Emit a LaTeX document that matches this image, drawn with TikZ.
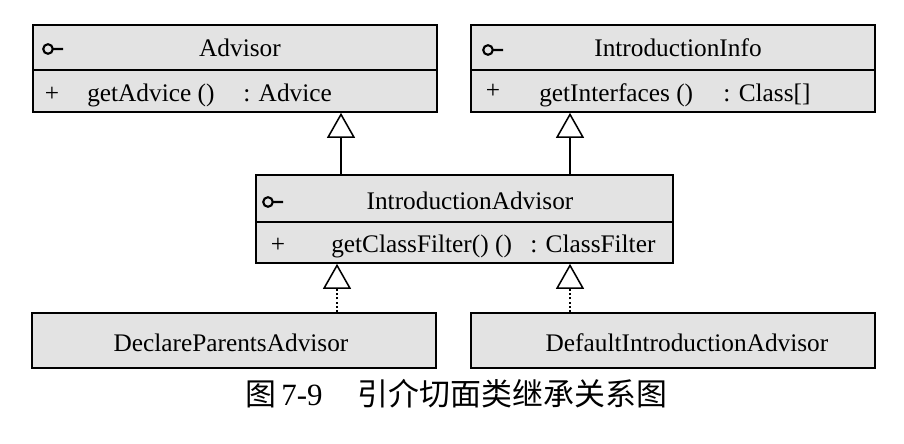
\documentclass[tikz,border=0pt]{standalone}
\usepackage{fontspec}
\setmainfont{Liberation Serif}
\newfontfamily\cjk{Noto Sans CJK SC}
\usetikzlibrary{arrows.meta}

\begin{document}
\begin{tikzpicture}[x=0.025cm, y=-0.025cm,
    cls/.style={draw, line width=1.2pt, fill=black!11, inner sep=0pt, minimum width=10.1cm},
    hdr/.style={cls, minimum height=1.125cm},
    ops/.style={cls, minimum height=1.05cm},
    txt/.style={anchor=base, inner sep=0pt, font=\fontsize{18}{20}\selectfont},
    optxt/.style={txt, anchor=base west},
    gen/.style={line width=1.1pt, -{Triangle[open, length=0.625cm, width=0.7cm, line width=1.1pt]}},
    real/.style={gen, dash pattern=on 1.5pt off 1.5pt}]

    \useasboundingbox (0,0) rectangle (904,444);

    % Advisor
    \node[hdr] (advH) at (235,47.5) {};
    \node[ops] (advB) at (235,91) {};
    \node[txt] (advTitle) at (240,57) {Advisor};
    \node[txt] (advPlus) at (52,102) {+};
    \node[optxt] (advOp) at (87,102) {getAdvice ()};
    \node[optxt] (advRet) at (243,102) {: Advice};

    % IntroductionInfo
    \node[hdr] (infoH) at (673,47.5) {};
    \node[ops] (infoB) at (673,91) {};
    \node[txt] (infoTitle) at (678,57) {IntroductionInfo};
    \node[txt] (infoPlus) at (493,99) {+};
    \node[optxt] (infoOp) at (539,102) {getInterfaces ()};
    \node[optxt] (infoRet) at (723,102) {: Class[]};

    % IntroductionAdvisor
    \node[hdr, minimum width=10.425cm, minimum height=1.175cm] (iaH) at (464.5,198.5) {};
    \node[ops, minimum width=10.425cm, minimum height=1.025cm] (iaB) at (464.5,242.5) {};
    \node[txt] (iaTitle) at (470,210) {IntroductionAdvisor};
    \node[txt] (iaPlus) at (278,253) {+};
    \node[optxt] (iaOp) at (331,253) {getClassFilter() ()};
    \node[optxt] (iaRet) at (530,253) {: ClassFilter};

    % Implementations
    \node[cls, minimum height=1.375cm] (dpa) at (234,340.5) {};
    \node[cls, minimum height=1.375cm] (dia) at (673,340.5) {};
    \node[txt] (dpaTitle) at (231,352) {DeclareParentsAdvisor};
    \node[txt] (diaTitle) at (687,352) {DefaultIntroductionAdvisor};

    % Interface icons
    \foreach \x/\y in {48/49, 488/50, 268/202} {
        \draw[line width=1.5pt] (\x,\y) circle[radius=0.12cm] (\x+5,\y) -- (\x+15,\y);
    }

    % Generalization
    \coordinate (l1) at (341,0);
    \coordinate (l2) at (570,0);
    \coordinate (l3) at (337,0);
    \draw[gen] (l1 |- iaH.north) -- (l1 |- advB.south);
    \draw[gen] (l2 |- iaH.north) -- (l2 |- infoB.south);

    % Realization
    \draw[real] (l3 |- dpa.north) -- (l3 |- iaB.south);
    \draw[real] (l2 |- dia.north) -- (l2 |- iaB.south);

    % Caption
    \node[anchor=base west, inner sep=0pt, font=\fontsize{22}{26}\selectfont] (cap) at (245,406)
        {{\cjk 图}\,7-9\hspace{25pt}{\cjk 引介切面类继承关系图}};
\end{tikzpicture}
\end{document}
